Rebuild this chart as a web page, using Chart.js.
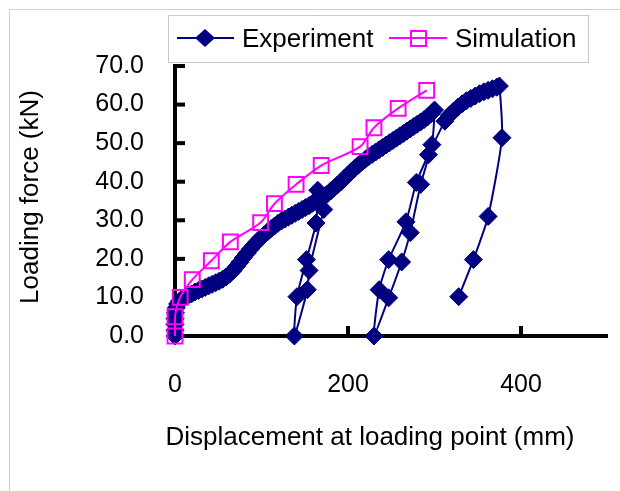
<!DOCTYPE html>
<html>
<head>
<meta charset="utf-8">
<script src="https://cdn.jsdelivr.net/npm/chart.js@4.4.1/dist/chart.umd.min.js"></script>
<style>
  html, body { margin: 0; padding: 0; background: #fff; }
  canvas { display: block; }
</style>
</head>
<body>
<canvas id="chart" width="620" height="491"></canvas>
<script>
// Experiment: loading curve with two unload/reload loops and final unloading
var expX = [0, 0, 0, 0, 0.5, 1.5, 3, 5, 8, 11, 15, 19, 23, 27, 31, 35, 39, 43, 47, 51,
  55, 59, 63, 67, 71, 75, 79, 83, 87, 91, 95, 99, 103, 107, 111, 115, 119, 123, 127, 131,
  135, 139, 143, 147, 151, 155, 159, 163, 165,
  163, 152, 141, 138, 153, 155, 172,
  176, 180, 184, 188, 192, 196, 200, 204, 208, 212, 216, 220, 224, 228, 232, 236, 240, 244,
  248, 252, 256, 260, 264, 268, 272, 276, 280, 284, 288, 292, 296, 300,
  297, 284, 272, 262, 247, 230, 236, 247, 267, 279, 293, 312,
  317, 322, 327, 332, 337, 342, 347, 352, 357, 362, 367, 372, 375,
  378, 362, 345, 328];
var expY = [0, 1.5, 3, 4.5, 6, 7.3, 8.3, 9, 9.6, 10, 10.5, 10.9, 11.4, 11.8, 12.2, 12.6, 13, 13.4, 13.8, 14.2,
  14.7, 15.3, 16, 16.9, 18, 19.1, 20.3, 21.4, 22.5, 23.5, 24.5, 25.4, 26.2, 27, 27.8, 28.5, 29.2, 29.8, 30.3, 30.8,
  31.3, 31.8, 32.3, 32.8, 33.3, 33.8, 34.4, 35.2, 37.8,
  29.3, 19.8, 10.2, 0, 12, 17, 32.8,
  36.8, 37.6, 38.4, 39.2, 40, 40.9, 41.8, 42.7, 43.5, 44.3, 45.1, 45.8, 46.5, 47.1, 47.7, 48.3, 48.9, 49.5,
  50.1, 50.7, 51.3, 51.9, 52.5, 53.1, 53.7, 54.3, 54.9, 55.5, 56.1, 56.8, 57.6, 58.6,
  49.6, 39.3, 26.8, 19.2, 9.9, 0, 12, 19.8, 29.6, 39.8, 47, 55.7,
  57.2, 58.3, 59.3, 60.2, 61, 61.6, 62.2, 62.8, 63.3, 63.7, 64.1, 64.5, 64.8,
  51.4, 31, 19.8, 10.2];

// Simulation
var simX = [0, 0, 6, 20, 42, 64, 99, 115, 140, 169, 214, 230, 258, 291];
var simY = [0, 5, 10, 14.6, 19.5, 24.4, 29.4, 34.3, 39.3, 44.2, 49.1, 54, 59, 63.7];

var seriesNames = ['Experiment', 'Simulation'];
var xTitle = 'Displacement at loading point (mm)';
var yTitle = 'Loading force (kN)';

var navy = '#000080';
var magenta = '#FF00FF';
var fontFamily = "'Liberation Sans', Arial, sans-serif";

function pts(xs, ys) {
  return xs.map(function (x, i) { return { x: x, y: ys[i] }; });
}

var framePlugin = {
  id: 'frame',
  beforeDraw: function (chart) {
    var ctx = chart.ctx;
    ctx.save();
    ctx.fillStyle = '#fff';
    ctx.fillRect(0, 0, chart.width, chart.height);
    ctx.strokeStyle = '#d0d0d0';
    ctx.lineWidth = 1;
    ctx.beginPath();
    ctx.moveTo(9.5, chart.height);
    ctx.lineTo(9.5, 9.5);
    ctx.lineTo(chart.width, 9.5);
    ctx.stroke();
    ctx.restore();
  }
};

var tickPlugin = {
  id: 'innerTicks',
  beforeDatasetsDraw: function (chart) {
    var ctx = chart.ctx;
    var xs = chart.scales.x, ys = chart.scales.y;
    var area = chart.chartArea;
    ctx.save();
    ctx.strokeStyle = '#000';
    ctx.lineWidth = 4;
    ys.ticks.forEach(function (t) {
      var p = ys.getPixelForValue(t.value);
      ctx.beginPath();
      ctx.moveTo(area.left - 2, p);
      ctx.lineTo(area.left + 10, p);
      ctx.stroke();
    });
    xs.ticks.forEach(function (t) {
      if (t.value === 0) return;
      var p = xs.getPixelForValue(t.value);
      ctx.beginPath();
      ctx.moveTo(p, area.bottom + 2);
      ctx.lineTo(p, area.bottom - 10);
      ctx.stroke();
    });
    // axis titles
    ctx.fillStyle = '#000';
    ctx.font = '26px ' + fontFamily;
    ctx.textAlign = 'center';
    ctx.textBaseline = 'middle';
    ctx.fillText(xTitle, 370, 438);
    ctx.translate(31, 197);
    ctx.rotate(-Math.PI / 2);
    ctx.fillText(yTitle, 0, 0);
    ctx.restore();
  }
};

var legendPlugin = {
  id: 'boxLegend',
  afterDraw: function (chart) {
    var ctx = chart.ctx;
    ctx.save();
    ctx.strokeStyle = '#c8c8c8';
    ctx.lineWidth = 1;
    ctx.strokeRect(168.5, 15.5, 420, 47);
    var cy = 38;
    // Experiment
    ctx.strokeStyle = navy;
    ctx.lineWidth = 2;
    ctx.beginPath();
    ctx.moveTo(177, cy);
    ctx.lineTo(234, cy);
    ctx.stroke();
    ctx.fillStyle = navy;
    ctx.beginPath();
    ctx.moveTo(205 - 10, cy);
    ctx.lineTo(205, cy - 9);
    ctx.lineTo(205 + 10, cy);
    ctx.lineTo(205, cy + 9);
    ctx.closePath();
    ctx.fill();
    // Simulation
    ctx.strokeStyle = magenta;
    ctx.beginPath();
    ctx.moveTo(389, cy);
    ctx.lineTo(447, cy);
    ctx.stroke();
    ctx.strokeRect(411, cy - 7, 15, 15);
    ctx.fillStyle = '#000';
    ctx.font = '26px ' + fontFamily;
    ctx.textAlign = 'left';
    ctx.textBaseline = 'middle';
    ctx.fillText(seriesNames[0], 242, cy + 2);
    ctx.fillText(seriesNames[1], 455, cy + 2);
    ctx.restore();
  }
};

var ctx = document.getElementById('chart').getContext('2d');
var myChart = new Chart(ctx, {
    type: 'line',
    data: {
        datasets: [{
            label: seriesNames[0],
            data: pts(expX, expY),
            borderColor: navy,
            backgroundColor: navy,
            borderWidth: 2,
            pointStyle: 'rectRot',
            pointRadius: 9,
            pointBorderWidth: 1,
            pointBackgroundColor: navy,
            pointBorderColor: navy,
            tension: 0.2,
            clip: false,
            order: 2
        }, {
            label: seriesNames[1],
            data: pts(simX, simY),
            borderColor: magenta,
            backgroundColor: 'rgba(0,0,0,0)',
            borderWidth: 2,
            pointStyle: 'rect',
            pointRadius: 10.5,
            pointBorderWidth: 2,
            pointBackgroundColor: 'rgba(0,0,0,0)',
            pointBorderColor: magenta,
            tension: 0.3,
            clip: false,
            order: 1
        }]
    },
    options: {
        responsive: false,
        animation: false,
        devicePixelRatio: 1,
        layout: { padding: { top: 66, right: 8, left: 0, bottom: 0 } },
        plugins: {
            legend: { display: false },
            tooltip: { enabled: false }
        },
        scales: {
            x: {
                type: 'linear',
                min: 0,
                max: 500,
                grid: { display: false, drawTicks: false },
                border: { display: true, color: '#000', width: 4 },
                ticks: {
                    stepSize: 200,
                    includeBounds: false,
                    padding: 34,
                    color: '#000',
                    maxRotation: 0,
                    font: { family: fontFamily, size: 25, lineHeight: 1.2 }
                },
                afterFit: function (scale) { scale.height = 155; }
            },
            y: {
                min: 0,
                max: 70,
                grid: { display: false, drawTicks: false },
                border: { display: true, color: '#000', width: 4 },
                ticks: {
                    stepSize: 10,
                    padding: 31,
                    color: '#000',
                    font: { family: fontFamily, size: 25 },
                    callback: function (v) { return v.toFixed(1); }
                },
                afterFit: function (scale) { scale.width = 175; }
            }
        }
    },
    plugins: [framePlugin, tickPlugin, legendPlugin]
});
</script>
</body>
</html>
